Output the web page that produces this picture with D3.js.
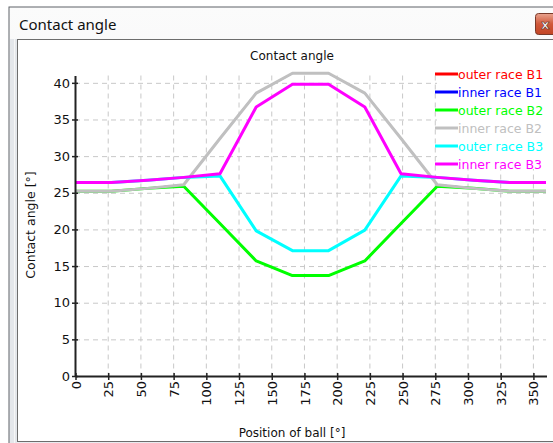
<!DOCTYPE html>
<html>
<head>
<meta charset="utf-8">
<script src="https://cdn.jsdelivr.net/npm/d3@7"></script>
<style>
  html, body { margin: 0; padding: 0; background: #fff; }
  svg { display: block; }
  text { font-family: "DejaVu Sans", sans-serif; fill: #111; }
</style>
</head>
<body>
<svg id="chart"></svg>
<script>
const width = 553;
const height = 443;

// Ball positions (deg) where the contact angles were computed
const positions = [0, 27.7, 55.4, 83.1, 110.8, 138.5, 166.2, 193.8, 221.5, 249.2, 276.9, 304.6, 332.3, 360];

// Contact angle per series (deg)
const outerRaceB1 = [25.2, 25.2, 25.6, 25.9, 20.8, 15.7, 13.7, 13.7, 15.7, 20.8, 25.9, 25.6, 25.2, 25.2];
const innerRaceB1 = [25.2, 25.2, 25.6, 26.1, 32.4, 38.6, 41.3, 41.3, 38.6, 32.4, 26.1, 25.6, 25.2, 25.2];
const outerRaceB2 = [25.2, 25.2, 25.6, 25.9, 20.8, 15.7, 13.7, 13.7, 15.7, 20.8, 25.9, 25.6, 25.2, 25.2];
const innerRaceB2 = [25.2, 25.2, 25.6, 26.1, 32.4, 38.6, 41.3, 41.3, 38.6, 32.4, 26.1, 25.6, 25.2, 25.2];
const outerRaceB3 = [26.4, 26.4, 26.7, 27.1, 27.3, 19.8, 17.1, 17.1, 19.9, 27.3, 27.1, 26.7, 26.4, 26.4];
const innerRaceB3 = [26.4, 26.4, 26.7, 27.1, 27.6, 36.7, 39.8, 39.8, 36.7, 27.6, 27.1, 26.7, 26.4, 26.4];

const seriesNames = ["outer race B1", "inner race B1", "outer race B2", "inner race B2", "outer race B3", "inner race B3"];
const seriesColors = ["#ff0000", "#0000ff", "#00ff00", "#c0c0c0", "#00ffff", "#ff00ff"];
const seriesValues = [outerRaceB1, innerRaceB1, outerRaceB2, innerRaceB2, outerRaceB3, innerRaceB3];

// Tick values on both axes
const xTicks = [0, 25, 50, 75, 100, 125, 150, 175, 200, 225, 250, 275, 300, 325, 350];
const yTicks = [0, 5, 10, 15, 20, 25, 30, 35, 40];

const svg = d3.select("#chart")
  .attr("width", width)
  .attr("height", height);

// ---- window frame (dialog look) ----
const defs = svg.append("defs");
const titleGrad = defs.append("linearGradient").attr("id", "titleGrad")
  .attr("x1", 0).attr("y1", 0).attr("x2", 0).attr("y2", 1);
titleGrad.append("stop").attr("offset", "0%").attr("stop-color", "#fbfbfb");
titleGrad.append("stop").attr("offset", "100%").attr("stop-color", "#e8ebef");

const closeGrad = defs.append("linearGradient").attr("id", "closeGrad")
  .attr("x1", 0).attr("y1", 0).attr("x2", 0).attr("y2", 1);
closeGrad.append("stop").attr("offset", "0%").attr("stop-color", "#e9a48f");
closeGrad.append("stop").attr("offset", "50%").attr("stop-color", "#d0583a");
closeGrad.append("stop").attr("offset", "100%").attr("stop-color", "#c24525");

svg.append("rect")
  .attr("x", 9).attr("y", 7)
  .attr("width", width).attr("height", height)
  .attr("fill", "url(#titleGrad)")
  .attr("stroke", "#5f6368");

// thin side bands of the frame
svg.append("rect")
  .attr("x", 10).attr("y", 39)
  .attr("width", 7).attr("height", height)
  .attr("fill", "#e4e7eb");
svg.append("line")
  .attr("x1", 14.5).attr("x2", 14.5).attr("y1", 39).attr("y2", height)
  .attr("stroke", "#f6f6f6");

svg.append("text")
  .attr("x", 19).attr("y", 30)
  .style("font-family", "'Noto Sans', sans-serif")
  .style("font-size", "15px")
  .text("Contact angle");

// close button
svg.append("rect")
  .attr("x", 535.5).attr("y", 13.5)
  .attr("width", 30).attr("height", 21)
  .attr("rx", 3)
  .attr("fill", "url(#closeGrad)")
  .attr("stroke", "#7a3a2a");
svg.append("text")
  .attr("x", 541).attr("y", 29)
  .style("font-size", "13px")
  .style("font-weight", "bold")
  .style("fill", "#fff")
  .style("stroke", "#5a2a20")
  .style("stroke-width", 0.6)
  .text("x");

// chart panel
svg.append("rect")
  .attr("x", 17.5).attr("y", 39.5)
  .attr("width", width).attr("height", 402)
  .attr("fill", "#fff")
  .attr("stroke", "#6d6d6d");

// ---- plot ----
const xScale = d3.scaleLinear()
  .domain([0, 360])
  .range([75, 546]);

const yScale = d3.scaleLinear()
  .domain([0, 41])
  .range([376, 75.5]);

const g = svg.append("g");

// dashed grid
g.append("g")
  .selectAll("line")
  .data(xTicks.filter(d => d > 0))
  .enter()
  .append("line")
  .attr("x1", d => xScale(d) + 0.5).attr("x2", d => xScale(d) + 0.5)
  .attr("y1", yScale(41)).attr("y2", yScale(0))
  .attr("stroke", "#c8c8c8")
  .attr("stroke-dasharray", "5,4");

g.append("g")
  .selectAll("line")
  .data(yTicks.filter(d => d > 0))
  .enter()
  .append("line")
  .attr("x1", xScale(0)).attr("x2", xScale(360))
  .attr("y1", d => yScale(d) + 0.5).attr("y2", d => yScale(d) + 0.5)
  .attr("stroke", "#c8c8c8")
  .attr("stroke-dasharray", "5,4");

// series lines, drawn in legend order so B3 ends on top;
// B1 sits exactly under B2, so keep it thinner to stay hidden
const line = d3.line()
  .x((d, i) => xScale(positions[i]))
  .y(d => yScale(d));

g.append("g")
  .selectAll("path")
  .data(seriesValues)
  .enter()
  .append("path")
  .attr("d", d => line(d))
  .attr("fill", "none")
  .attr("stroke", (d, i) => seriesColors[i])
  .attr("stroke-width", (d, i) => (i < 2 ? 1.5 : 3))
  .attr("stroke-linejoin", "round");

// axes: ticks cross the axis line ("+" look)
const xAxis = d3.axisBottom(xScale)
  .tickValues(xTicks)
  .tickSize(4)
  .tickSizeOuter(0)
  .tickFormat(d3.format("d"));

const xAxisG = g.append("g")
  .attr("transform", `translate(0.5,${yScale(0)})`)
  .call(xAxis);
xAxisG.select(".domain").attr("stroke", "#222").attr("stroke-width", 2);
xAxisG.selectAll(".tick line").attr("y1", -3).attr("y2", 4).attr("stroke", "#222").attr("stroke-width", 1.5);
xAxisG.selectAll(".tick text")
  .attr("transform", "translate(0,5) rotate(-90)")
  .attr("x", 0).attr("y", 0)
  .attr("dy", "0.35em")
  .attr("text-anchor", "end")
  .style("font-size", "13px")
  .style("font-family", "'DejaVu Sans', sans-serif")
  .attr("fill", "#111");

const yAxis = d3.axisLeft(yScale)
  .tickValues(yTicks)
  .tickSize(3)
  .tickSizeOuter(0);

const yAxisG = g.append("g")
  .attr("transform", `translate(${xScale(0)},0)`)
  .call(yAxis);
yAxisG.select(".domain").attr("stroke", "#222").attr("stroke-width", 2);
yAxisG.selectAll(".tick line").attr("x1", -3).attr("x2", 3).attr("stroke", "#222").attr("stroke-width", 1.5);
yAxisG.selectAll(".tick text")
  .attr("x", -5)
  .style("font-size", "13px")
  .style("font-family", "'DejaVu Sans', sans-serif")
  .attr("fill", "#111");

// titles
svg.append("text")
  .attr("x", 292).attr("y", 60)
  .attr("text-anchor", "middle")
  .style("font-size", "12px")
  .text("Contact angle");

svg.append("text")
  .attr("x", 292).attr("y", 437)
  .attr("text-anchor", "middle")
  .style("font-size", "12px")
  .text("Position of ball [°]");

svg.append("text")
  .attr("transform", "translate(35,225) rotate(-90)")
  .attr("text-anchor", "middle")
  .style("font-size", "12.5px")
  .text("Contact angle [°]");

// legend with white box over the grid
const legend = svg.append("g");
legend.append("rect")
  .attr("x", 437).attr("y", 66)
  .attr("width", 120).attr("height", 103)
  .attr("fill", "#fff");

const legendItem = legend.selectAll("g")
  .data(seriesNames)
  .enter()
  .append("g")
  .attr("transform", (d, i) => `translate(435,${74 + i * 18})`);

legendItem.append("line")
  .attr("x1", 0).attr("x2", 23)
  .attr("stroke", (d, i) => seriesColors[i])
  .attr("stroke-width", 3);

legendItem.append("text")
  .attr("x", 23).attr("y", 5)
  .style("font-size", "12.5px")
  .style("fill", (d, i) => seriesColors[i])
  .text(d => d);
</script>
</body>
</html>
